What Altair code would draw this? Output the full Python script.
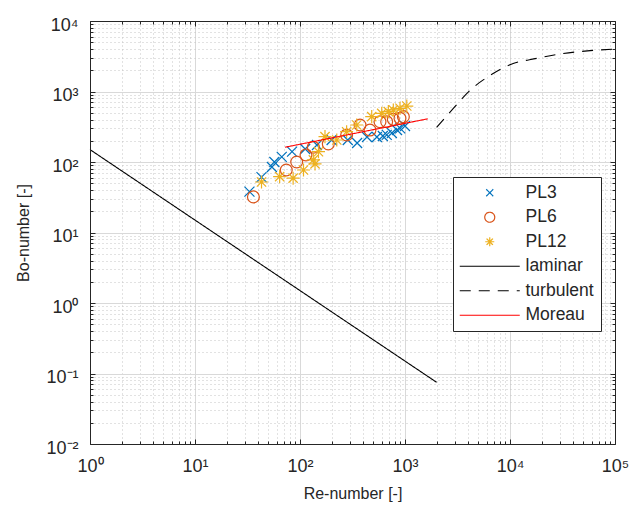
import altair as alt
import pandas as pd

# ---------------- data ----------------
series_names = ["PL3", "PL6", "PL12", "laminar", "turbulent", "Moreau"]
series_colors = ["#0072BD", "#D95319", "#EDB120", "#000000", "#000000", "#FF0000"]

pl3_re = [33, 43, 54, 57, 67, 84, 112, 145, 200, 285, 350, 435, 540, 615, 670, 750, 840, 900, 1000]
pl3_bo = [38, 61, 85, 100, 118, 140, 153, 174, 205, 205, 186, 226, 226, 234, 242, 258, 284, 300, 324]

pl6_re = [36, 74, 93, 114, 134, 186, 278, 373, 464, 578, 669, 774, 896, 965]
pl6_bo = [32, 77, 100, 126, 162, 180, 242, 335, 284, 373, 373, 403, 417, 440]

pl12_re = [43, 64, 86, 108, 134, 139, 150, 173, 224, 278, 347, 482, 600, 694, 774, 896, 1040]
pl12_bo = [52, 62, 59, 77, 107, 94, 140, 229, 205, 269, 335, 440, 490, 518, 547, 577, 622]

lam_re = [1, 2000]
lam_bo = [150, 0.075]

turb_re = [2000, 2900, 4200, 6500, 10000, 18000, 32000, 58000, 100000]
turb_bo = [310, 580, 1050, 1700, 2400, 2950, 3450, 3800, 4000]

mor_re = [72, 1650]
mor_bo = [162, 410]

x_major = [1, 10, 100, 1000, 10000, 100000]
y_major = [0.01, 0.1, 1, 10, 100, 1000, 10000]
x_minor = [k * 10 ** d for d in range(0, 5) for k in range(2, 10)]
y_minor = [k * 10.0 ** d for d in range(-2, 4) for k in range(2, 10)]

rows = []
for name, res, bos in [("PL3", pl3_re, pl3_bo), ("PL6", pl6_re, pl6_bo), ("PL12", pl12_re, pl12_bo),
                       ("laminar", lam_re, lam_bo), ("turbulent", turb_re, turb_bo), ("Moreau", mor_re, mor_bo)]:
    for r, b in zip(res, bos):
        rows.append({"series": name, "re": r, "bo": b})
df = pd.DataFrame(rows)

# ---------------- styling ----------------
W, H = 525, 423
FONT = "Liberation Sans"
TXT = "#262626"

X_PATH = "M-0.7,-0.7L0.7,0.7M-0.7,0.7L0.7,-0.7"
AST_PATH = "M-0.9,0L0.9,0M0,-0.9L0,0.9M-0.64,-0.64L0.64,0.64M-0.64,0.64L0.64,-0.64"
LINE_PATH = "M-6,0L6,0"
shapes = [X_PATH, "circle", AST_PATH, LINE_PATH, LINE_PATH, LINE_PATH]
dashes = [[1, 0], [1, 0], [1, 0], [1, 0], [11, 8], [1, 0]]

xs = alt.Scale(type="log", domain=[1, 1e5], nice=False)
ys = alt.Scale(type="log", domain=[0.01, 1e4], nice=False)

SUP = "['\u2070','\u00b9','\u00b2','\u00b3','\u2074','\u2075','\u2076','\u2077','\u2078','\u2079']"
label_expr = ("'10' + (round(log(datum.value)/LN10) < 0 ? '\u207b' : '') + "
              + SUP + "[abs(round(log(datum.value)/LN10))]")
is_major = "abs(log(datum.value)/LN10 - round(log(datum.value)/LN10)) < 0.001"

leg = alt.Legend(orient="none", legendX=363, legendY=156, title=None,
                 fillColor="white", strokeColor=TXT, padding=7, rowPadding=5.5,
                 symbolSize=100, symbolStrokeWidth=1.2, symbolOffset=21, labelOffset=27,
                 labelFontSize=17.5, labelFont=FONT, labelColor=TXT, cornerRadius=0)

color_enc = alt.Color("series:N", scale=alt.Scale(domain=series_names, range=series_colors), legend=leg)
shape_enc = alt.Shape("series:N", scale=alt.Scale(domain=series_names, range=shapes), legend=leg)
dash_enc = alt.StrokeDash("series:N", scale=alt.Scale(domain=series_names, range=dashes), legend=leg)

base = alt.Chart(df)


def carrier(xaxis, yaxis, xtitle=None, ytitle=None):
    return base.mark_point(opacity=0).encode(
        x=alt.X("re:Q", scale=xs, axis=xaxis, title=xtitle),
        y=alt.Y("bo:Q", scale=ys, axis=yaxis, title=ytitle),
    )


minor_grid = carrier(
    alt.Axis(orient="bottom", values=x_minor, grid=True, gridColor="#c4c4c4", gridDash=[1, 3],
             labels=False, ticks=False, domain=False, zindex=0),
    alt.Axis(orient="left", values=y_minor, grid=True, gridColor="#c4c4c4", gridDash=[1, 3],
             labels=False, ticks=False, domain=False, zindex=0),
)

major_grid = carrier(
    alt.Axis(orient="bottom", values=x_major, grid=True, gridColor="#d9d9d9", labelExpr=label_expr,
             ticks=False, tickSize=0, domain=False, labelFlush=False, labelOverlap=False,
             labelFontSize=18, labelFont=FONT, labelColor=TXT, labelPadding=13,
             titleFontSize=16, titleFont=FONT, titleColor=TXT, titleFontWeight="normal",
             titlePadding=10, zindex=0),
    alt.Axis(orient="left", values=y_major, grid=True, gridColor="#d9d9d9", labelExpr=label_expr,
             ticks=False, tickSize=0, domain=False, labelFlush=False, labelOverlap=False,
             labelFontSize=18, labelFont=FONT, labelColor=TXT, labelPadding=12, labelOffset=4,
             titleFontSize=16, titleFont=FONT, titleColor=TXT, titleFontWeight="normal",
             titlePadding=14, zindex=0),
    xtitle="Re-number [-]", ytitle="Bo-number [-]",
)

tick_size = {"condition": {"test": is_major, "value": 5}, "value": 3}


def tick_axis(orient, values, offset):
    return alt.Axis(orient=orient, values=values, offset=offset, grid=False, labels=False,
                    ticks=True, tickSize=tick_size, tickColor=TXT, tickWidth=1,
                    domain=True, domainColor=TXT, domainWidth=1, zindex=1)


ticks_a = carrier(tick_axis("top", x_major + x_minor, -H), tick_axis("right", y_major + y_minor, -W))
ticks_b = carrier(tick_axis("bottom", x_major + x_minor, -H), tick_axis("left", y_major + y_minor, -W))

x_enc = alt.X("re:Q", scale=xs, axis=None)
y_enc = alt.Y("bo:Q", scale=ys, axis=None)


def points(name, size):
    return base.transform_filter(alt.datum.series == name).mark_point(
        filled=False, size=size, strokeWidth=1.2, opacity=1
    ).encode(x=x_enc, y=y_enc, color=color_enc, shape=shape_enc)


p3 = points("PL3", 204)
p6 = points("PL6", 140)
p12 = points("PL12", 210)

lines = base.transform_filter(
    alt.FieldOneOfPredicate(field="series", oneOf=["laminar", "turbulent", "Moreau"])
).mark_line(strokeWidth=1.1, interpolate="monotone").encode(
    x=x_enc, y=y_enc, color=color_enc, strokeDash=dash_enc
)

chart = alt.layer(minor_grid, major_grid, p3, p6, p12, lines, ticks_a, ticks_b).resolve_axis(
    x="independent", y="independent"
).properties(
    width=W, height=H,
    autosize=alt.AutoSizeParams(type="none"),
    padding={"left": 90, "top": 21, "right": 28, "bottom": 64},
    background="white",
).configure_view(stroke=None)

chart.save("out.html", embed_options={"renderer": "svg", "actions": False})
